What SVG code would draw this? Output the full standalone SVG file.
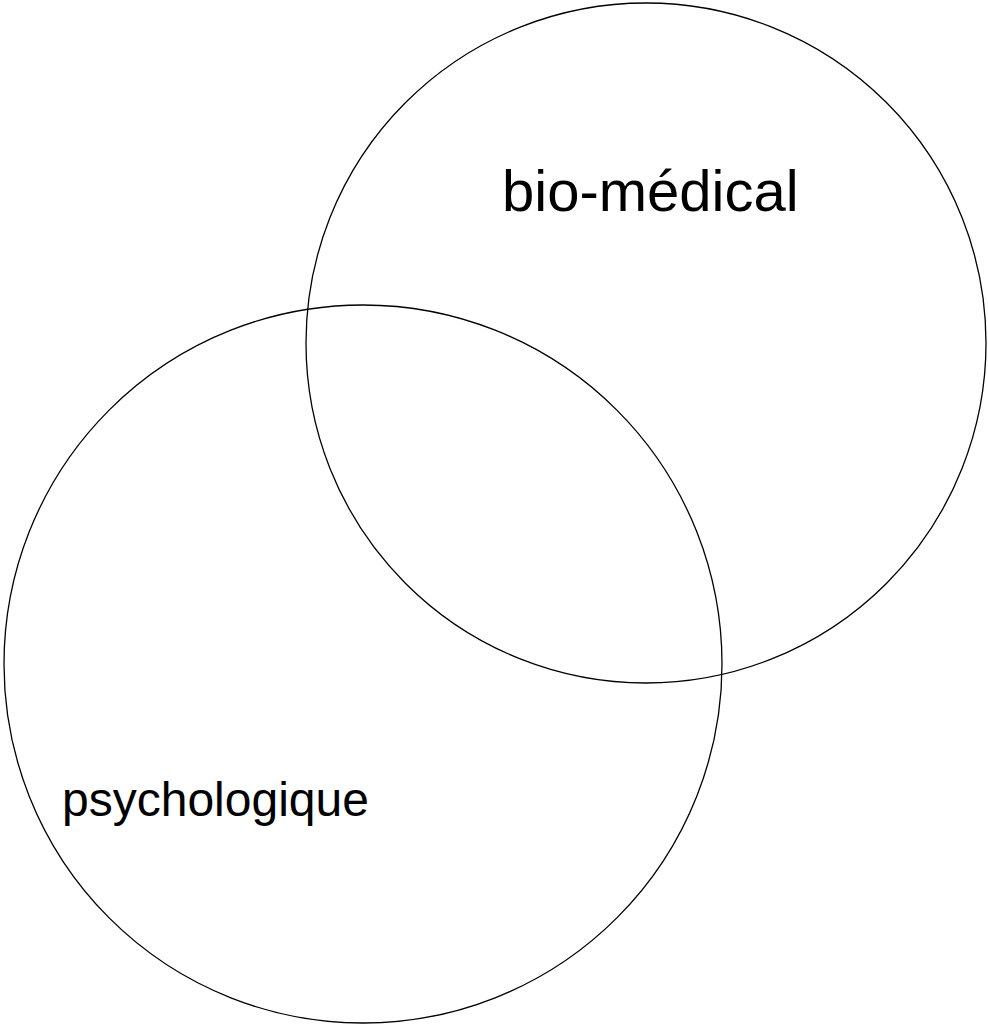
<svg xmlns="http://www.w3.org/2000/svg" width="988" height="1027" viewBox="0 0 988 1027">
<style>
.c{fill:none;stroke:#000;stroke-width:1.3}
.t{font-family:"Liberation Sans",Arial,sans-serif;fill:#000}
</style>
<rect width="988" height="1027" fill="#fff"/>
<g id="psychologique">
<circle class="c" cx="363" cy="664" r="359"/>
<text class="t" x="62" y="816" font-size="48">psychologique</text>
</g>
<g id="biomedical">
<circle class="c" cx="646" cy="343" r="340"/>
<text class="t" x="502" y="211" font-size="58">bio-médical</text>
</g>
<g id="connectors"></g>
</svg>
